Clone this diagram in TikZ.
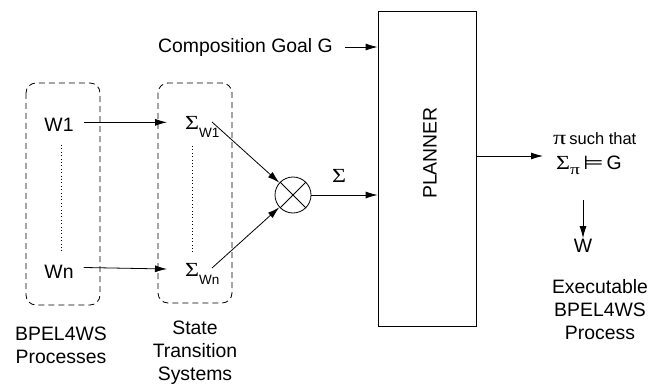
\documentclass[tikz,border=0pt]{standalone}
\usepackage{fontspec}
\setmainfont{Liberation Sans}
\newfontfamily\sigfont{Liberation Serif}
\newfontfamily\symfont{DejaVu Sans}
\usetikzlibrary{arrows.meta,calc}
\newcommand\mySig{{\sigfont\fontsize{20}{20}\selectfont\scalebox{1.2}[1]{Σ}}}
\newcommand\myPi[1]{{\sigfont\fontsize{#1}{#1}\selectfont\scalebox{1.3}[1]{π}}}
\newcommand\subW[1]{\raisebox{-8pt}{\fontsize{13.5}{14}\selectfont #1}}
\newcommand\myModels{{\symfont\fontsize{19}{19}\selectfont\scalebox{1.25}[1]{⊨}}}
\begin{document}
\begin{tikzpicture}[x=1pt,y=-1pt,
  lbl/.style={font=\fontsize{19.4}{23}\selectfont, inner sep=1pt},
  arr/.style={-{Latex[length=12pt,width=7pt]}, line width=0.8pt},
  dbox/.style={draw, dash pattern=on 6pt off 4pt, rounded corners=10pt, line width=0.8pt},
  dots/.style={line width=0.8pt, dash pattern=on 0.8pt off 2.6pt}
]
\useasboundingbox (0,0) rectangle (663,387);

% dashed groups
\draw[dbox] (26,83) rectangle (100,305);
\draw[dbox] (158,83) rectangle (232,303);

% processes
\node[lbl, anchor=base] (w1) at (59,132) {W1};
\node[lbl, anchor=base] (wn) at (59,278) {Wn};
\draw[dots] (61,145) -- (61,252);

% state transition systems
\node[lbl, anchor=base west] (sw1) at (184,130) {\mySig\subW{W1}};
\node[lbl, anchor=base west] (swn) at (184,276) {\mySig\subW{Wn}};
\draw[dots] (192,146) -- (192,253);

\draw[arr, shorten <=9pt, shorten >=17pt] ([yshift=3pt]w1.east) -- ([yshift=3pt]w1.east -| sw1.west);
\draw[arr, shorten <=9pt, shorten >=17pt] ([yshift=4pt]wn.east) -- ([yshift=2pt]wn.east -| swn.west);

% product
\node[draw, circle, minimum size=36pt, inner sep=0pt, line width=0.8pt] (ot) at (293,195) {};
\draw[line width=0.8pt] (ot.north west) -- (ot.south east);
\draw[line width=0.8pt] (ot.north east) -- (ot.south west);
\coordinate (s1) at (212,122);
\coordinate (sn) at (212,268);
\draw[arr] (s1) -- (ot);
\draw[arr] (sn) -- (ot);

% planner
\node[draw, line width=0.8pt, minimum width=98pt, minimum height=315pt, inner sep=0pt] (planner) at (427,168.5) {};
\node[lbl, rotate=90] (ptext) at (430,153) {PLANNER};
\draw[arr] (ot) -- (ot -| planner.west);
\node[lbl] (sig) at (339,176) {\mySig};

\node[lbl, anchor=east] (goal) at (334,47) {Composition Goal G};
\draw[arr, shorten <=11pt] (goal.east) -- (goal.east -| planner.west);

% result
\coordinate (resin) at (543,156);
\draw[arr] (planner.east |- resin) -- (resin);
\node[lbl, inner sep=0pt, anchor=base west] (pi) at (553,145) {\myPi{20}\hspace{3pt}{\fontsize{16.5}{17}\selectfont such that}};
\node[lbl, inner sep=0pt, anchor=base west] (res) at (556,170) {\mySig\raisebox{-5pt}{\myPi{15}}\hspace{3pt}\myModels\hspace{3pt}G};
\node[lbl] (wout) at (583,246) {W};
\coordinate (dn) at (583,200);
\draw[arr] (dn) -- (wout.north);

% captions
\node[lbl, align=center] (cap1) at (61,345) {BPEL4WS\\Processes};
\node[lbl, align=center] (cap2) at (195,353) {State\\Transition\\Systems};
\node[lbl, align=center] (cap3) at (600,310) {Executable\\BPEL4WS\\Process};
\end{tikzpicture}
\end{document}
